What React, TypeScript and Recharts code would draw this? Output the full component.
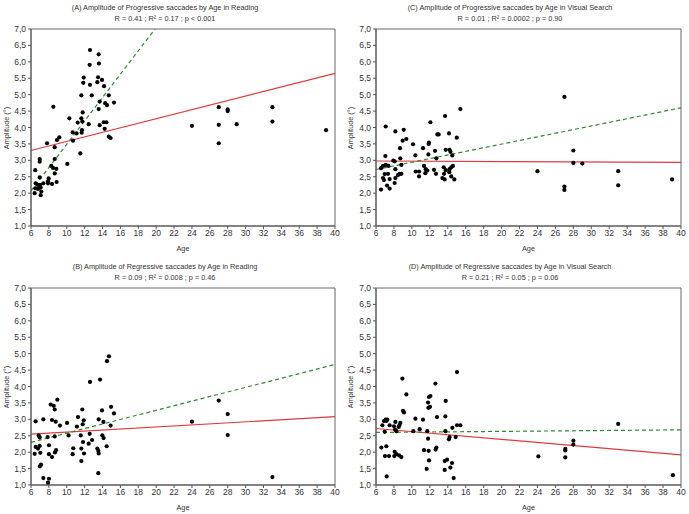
import React from 'react';
import { ScatterChart, Scatter, XAxis, YAxis, ReferenceLine, ReferenceArea } from 'recharts';

const ageTicks = [6, 8, 10, 12, 14, 16, 18, 20, 22, 24, 26, 28, 30, 32, 34, 36, 38, 40];
const ampTicks = [1, 1.5, 2, 2.5, 3, 3.5, 4, 4.5, 5, 5.5, 6, 6.5, 7];

// (A) progressive saccades, reading: [age, amplitude]
const progReading: [number, number][] = [
  [12.6, 6.36], [13.57, 6.23], [12.56, 5.91], [13.6, 5.95], [11.9, 5.52], [11.85, 5.36], [13.5, 5.53],
  [13.94, 5.45], [13.42, 5.38], [12.6, 5.3], [14.17, 5.26], [11.63, 4.98], [12.8, 4.98], [14.7, 4.98],
  [13.68, 4.79], [14.3, 4.74], [14.5, 4.68], [15.28, 4.76], [8.5, 4.63], [13.57, 4.56], [11.78, 4.46],
  [11.63, 4.28], [10.29, 4.28], [14.13, 4.16], [14.43, 4.16], [11.22, 4.15], [12.45, 4.1], [13.68, 4.07],
  [11.74, 4.18], [14.24, 3.96], [11.7, 3.92], [11.67, 3.84], [11.1, 3.82], [10.66, 3.85], [14.7, 3.72],
  [14.9, 3.68], [9.17, 3.7], [8.9, 3.62], [10.7, 3.6], [7.79, 3.52], [11.52, 3.21], [8.65, 3.4],
  [10.06, 2.89], [6.97, 3.04], [6.97, 2.96], [8.65, 3.04], [8.27, 2.83], [8.46, 2.77], [8.83, 2.74],
  [8.65, 2.6], [6.48, 2.7], [6.97, 2.48], [7.98, 2.45], [7.9, 2.36], [7.9, 2.3], [8.87, 2.34],
  [8.35, 2.28], [6.52, 2.3], [6.78, 2.25], [7.0, 2.25], [7.08, 2.17], [7.38, 2.3], [6.78, 2.13],
  [7.16, 2.05], [6.41, 2.0], [7.08, 1.94], [6.48, 2.15],
  [24, 4.05], [27, 4.62], [27, 4.08], [27, 3.52], [28, 4.55], [28, 4.5], [29, 4.1], [33, 4.62], [33, 4.18], [39, 3.92],
];
const progReadingRed: [number, number][] = [[6, 3.3], [40, 5.65]];
const progReadingGreen: [number, number][] = [[6, 2.07], [19.87, 7]];

// (C) progressive saccades, visual search
const progSearch: [number, number][] = [
  [15.4, 4.56], [13.7, 4.35], [12.06, 4.16], [7.08, 4.03], [8.16, 3.88], [9.09, 3.93], [9.38, 3.65],
  [8.97, 3.6], [14.14, 3.82], [12.84, 3.79], [12.99, 3.79], [10.13, 3.49], [11.9, 3.54], [11.87, 3.5],
  [11.24, 3.37], [8.68, 3.37], [15.0, 3.69], [13.77, 3.32], [14.2, 3.32], [14.3, 3.26], [12.58, 3.29],
  [14.5, 3.15], [10.39, 3.15], [11.84, 3.18], [7.04, 3.13], [7.93, 2.99], [8.71, 3.06],
  [12.73, 3.06], [6.56, 2.76], [6.78, 2.83], [7.08, 2.86], [7.38, 2.83], [8.08, 2.97], [8.16, 2.73],
  [8.83, 2.86], [8.83, 2.59], [8.64, 2.59], [8.45, 2.55], [7.34, 2.59], [6.97, 2.58], [6.78, 2.46],
  [6.89, 2.4], [8.16, 2.46], [7.52, 2.43], [7.23, 2.23], [7.52, 2.14], [8.08, 2.31], [6.56, 2.11],
  [10.42, 2.66], [10.8, 2.66], [10.8, 2.51], [11.35, 2.83], [11.5, 2.61], [11.72, 2.69], [11.54, 2.73],
  [12.69, 2.59], [13.55, 2.79], [12.47, 2.71], [13.77, 2.7], [13.58, 2.59], [13.65, 2.42],
  [14.39, 2.79], [14.57, 2.83], [14.2, 2.73], [14.39, 2.51], [14.17, 2.64], [14.73, 2.42], [13.4, 2.46],
  [24, 2.67], [27, 4.93], [27, 2.2], [27, 2.1], [28, 3.3], [28, 2.92], [29, 2.9], [33, 2.67], [33, 2.24], [39, 2.42],
];
const progSearchRed: [number, number][] = [[6, 2.98], [40, 2.94]];
const progSearchGreen: [number, number][] = [[6, 2.72], [40, 4.6]];

// (B) regressive saccades, reading
const regReading: [number, number][] = [
  [14.72, 4.92], [14.5, 4.77], [12.6, 4.14], [13.72, 4.21], [8.95, 3.6], [8.2, 3.45], [8.54, 3.41],
  [8.65, 3.3], [14.95, 3.38], [15.28, 3.18], [13.94, 3.27], [11.74, 3.3], [11.26, 3.07], [11.9, 2.97],
  [13.57, 3.0], [14.1, 2.92], [14.9, 2.81], [6.52, 2.94], [7.38, 3.0], [8.35, 2.98], [8.76, 2.93],
  [9.24, 2.81], [10.03, 2.89], [11.78, 2.85], [11.14, 2.78], [12.56, 2.56], [6.86, 2.51], [8.65, 2.48],
  [10.2, 2.51], [12.83, 2.37], [11.56, 2.51], [12.45, 2.26], [13.98, 2.51], [14.12, 2.43], [14.46, 2.18],
  [11.82, 2.31], [7.86, 2.46], [6.97, 2.45], [6.52, 2.16], [6.78, 2.11], [6.97, 2.19], [7.04, 1.98],
  [6.41, 1.95], [8.01, 2.21], [8.01, 1.94], [8.68, 1.99], [8.8, 2.06], [8.35, 1.85], [10.66, 1.94],
  [10.73, 2.12], [11.63, 2.11], [11.93, 1.96], [11.63, 1.73], [13.42, 2.11], [13.53, 2.04], [13.57, 1.96],
  [7.0, 1.57], [7.12, 1.62], [7.38, 1.21], [8.01, 1.19], [7.9, 1.07], [13.53, 1.36],
  [24, 2.93], [27, 3.57], [28, 3.16], [28, 2.52], [33, 1.24],
];
const regReadingRed: [number, number][] = [[6, 2.55], [40, 3.08]];
const regReadingGreen: [number, number][] = [[6, 2.3], [40, 4.67]];

// (D) regressive saccades, visual search
const regSearch: [number, number][] = [
  [15.03, 4.44], [8.94, 4.24], [12.62, 4.09], [9.38, 3.76], [12.06, 3.71], [11.91, 3.68], [13.77, 3.56],
  [11.8, 3.51], [12.02, 3.38], [11.84, 3.35], [9.01, 3.26], [9.12, 3.21], [13.73, 3.09], [12.8, 3.07],
  [10.39, 3.02], [11.24, 2.99], [7.08, 2.99], [6.89, 2.95], [7.26, 2.99], [7.15, 2.95], [6.71, 2.82],
  [7.52, 2.82], [8.16, 2.92], [8.0, 2.79], [8.53, 2.77], [8.71, 2.89], [8.6, 2.82], [8.12, 2.69],
  [8.27, 2.64], [6.97, 2.62], [10.16, 2.64], [10.87, 2.7], [11.72, 2.64], [14.51, 2.74], [15.03, 2.82],
  [15.4, 2.82], [13.73, 2.64], [14.88, 2.46], [14.2, 2.46], [14.13, 2.39], [11.8, 2.41], [6.6, 2.14],
  [7.15, 2.18], [12.73, 2.14], [12.65, 2.08], [11.35, 2.06], [11.87, 2.04], [8.08, 2.01], [8.27, 1.94],
  [7.0, 1.88], [7.45, 1.88], [8.04, 1.88], [8.57, 1.9], [8.83, 1.85], [11.91, 1.75], [13.92, 1.77],
  [13.66, 1.73], [14.47, 1.67], [11.65, 1.49], [13.66, 1.46], [14.29, 1.53], [7.19, 1.26], [14.66, 1.21],
  [24.1, 1.87], [27.1, 2.1], [27.1, 2.05], [27.1, 1.84], [28, 2.35], [28, 2.23], [33, 2.86], [39.1, 1.3],
];
const regSearchRed: [number, number][] = [[6, 2.72], [40, 1.92]];
const regSearchGreen: [number, number][] = [[6, 2.6], [40, 2.68]];

const FONT = '"Liberation Sans", Arial, sans-serif';
const TEXT = '#333';

const fmt = (v: number) => v.toFixed(1).replace('.', ',');
const seg = (pts: [number, number][]) => pts.map(([x, y]) => ({ x, y }));

type PanelProps = {
  left: number;
  top: number;
  title: string;
  stats: string;
  points: [number, number][];
  red: [number, number][];
  green: [number, number][];
  plotLeft: number;
  plotRight: number;
  plotTop: number;
  plotBottom: number;
};

const W = 345;
const H = 257;

const Panel: React.FC<PanelProps> = ({ left, top, title, stats, points, red, green, plotLeft, plotRight, plotTop, plotBottom }) => {
  const data = points.map(([age, amp]) => ({ age, amp }));
  const cx = plotLeft + 134;
  return (
    <div style={{ position: 'absolute', left, top, width: W, height: H }}>
      <ScatterChart width={W} height={H} margin={{ top: plotTop, right: W - plotRight, left: 0, bottom: 0 }}>
        <XAxis
          type="number"
          dataKey="age"
          domain={[6, 40]}
          ticks={ageTicks}
          height={H - plotBottom}
          tickSize={3}
          tickMargin={1}
          stroke="#555"
          tick={{ fill: TEXT, fontSize: 8.5, fontFamily: FONT }}
        />
        <YAxis
          type="number"
          dataKey="amp"
          domain={[1, 7]}
          ticks={ampTicks}
          width={plotLeft}
          tickSize={3}
          tickMargin={2}
          stroke="#555"
          tickFormatter={fmt}
          tick={{ fill: TEXT, fontSize: 8.5, fontFamily: FONT }}
        />
        <ReferenceArea x1={6} x2={40} y1={1} y2={7} fill="none" stroke="#666" strokeWidth={1} />
        <ReferenceLine segment={seg(red)} stroke="#e0393e" strokeWidth={1.2} />
        <ReferenceLine segment={seg(green)} stroke="#2e8b2e" strokeWidth={1.2} strokeDasharray="4 3" />
        <Scatter
          data={data}
          fill="#000"
          isAnimationActive={false}
          shape={(p: any) => <circle cx={p.cx} cy={p.cy} r={2.1} fill="#000" />}
        />
      </ScatterChart>
      <div style={{ position: 'absolute', left: cx, top: plotTop - 22.5, transform: 'translate(-50%,-50%)', whiteSpace: 'nowrap', fontSize: 7.3, color: TEXT }}>
        {title}
      </div>
      <div style={{ position: 'absolute', left: cx, top: plotTop - 11.5, transform: 'translate(-50%,-50%)', whiteSpace: 'nowrap', fontSize: 7.3, color: TEXT }}>
        {stats}
      </div>
      <div style={{ position: 'absolute', left: 6, top: (plotTop + plotBottom) / 2, transform: 'translate(-50%,-50%) rotate(-90deg)', whiteSpace: 'nowrap', fontSize: 7.3, color: TEXT }}>
        Amplitude (°)
      </div>
      <div style={{ position: 'absolute', left: (plotLeft + plotRight) / 2, top: plotBottom + 21.5, transform: 'translate(-50%,-50%)', whiteSpace: 'nowrap', fontSize: 7.3, color: TEXT }}>
        Age
      </div>
    </div>
  );
};

export default function App() {
  return (
    <div style={{ position: 'absolute', left: 0, top: 0, width: 689, height: 514, background: '#fff', fontFamily: FONT }}>
      <Panel left={0} top={0} title="(A) Amplitude of Progressive saccades by Age in Reading" stats="R = 0.41 ; R² = 0.17 ; p < 0.001"
        points={progReading} red={progReadingRed} green={progReadingGreen} plotLeft={31} plotRight={335} plotTop={29} plotBottom={226} />
      <Panel left={344} top={0} title="(C) Amplitude of Progressive saccades by Age in Visual Search" stats="R = 0.01 ; R² = 0.0002 ; p = 0.90"
        points={progSearch} red={progSearchRed} green={progSearchGreen} plotLeft={32} plotRight={337} plotTop={29} plotBottom={226} />
      <Panel left={0} top={257} title="(B) Amplitude of Regressive saccades by Age in Reading" stats="R = 0.09 ; R² = 0.008 ; p = 0.46"
        points={regReading} red={regReadingRed} green={regReadingGreen} plotLeft={31} plotRight={335} plotTop={31} plotBottom={228} />
      <Panel left={344} top={257} title="(D) Amplitude of Regressive saccades by Age in Visual Search" stats="R = 0.21 ; R² = 0.05 ; p = 0.06"
        points={regSearch} red={regSearchRed} green={regSearchGreen} plotLeft={32} plotRight={337} plotTop={31} plotBottom={228} />
    </div>
  );
}
